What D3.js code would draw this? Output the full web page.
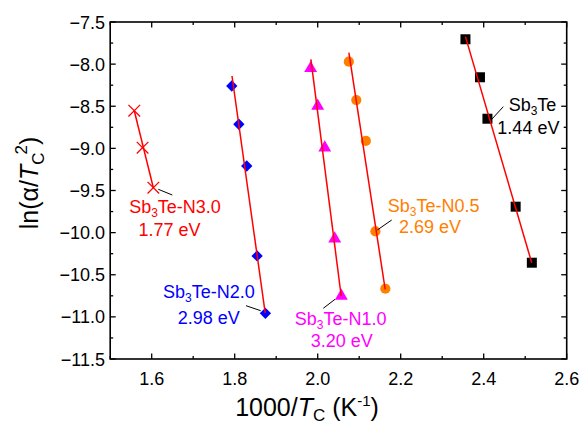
<!DOCTYPE html>
<html><head><meta charset="utf-8">
<script src="https://cdn.jsdelivr.net/npm/d3@7"></script>
<style>body{margin:0;background:#fff}svg{display:block;font-family:"Liberation Sans",Arial,sans-serif}</style>
</head><body><svg id="c" width="583" height="425"></svg>
<script>
// ---- data ----
const xTicks = [1.6, 1.8, 2.0, 2.2, 2.4, 2.6];
const yTicks = [-7.5, -8.0, -8.5, -9.0, -9.5, -10.0, -10.5, -11.0, -11.5];

const sb3teX = [2.356, 2.391, 2.409, 2.477, 2.516];
const sb3teY = [-7.705, -8.156, -8.648, -9.692, -10.357];
const sb3teFitX = [2.356, 2.5157];
const sb3teFitY = [-7.674, -10.357];

const n05X = [2.075, 2.093, 2.116, 2.139, 2.163];
const n05Y = [-7.971, -8.426, -8.912, -9.984, -10.666];
const n05FitX = [2.0751, 2.1626];
const n05FitY = [-7.864, -10.673];

const n10X = [1.983, 2.000, 2.017, 2.041, 2.057];
const n10Y = [-8.05, -8.497, -8.992, -10.072, -10.752];
const n10FitX = [1.9836, 2.0566];
const n10FitY = [-7.943, -10.752];

const n20X = [1.793, 1.810, 1.829, 1.854, 1.874];
const n20Y = [-8.260, -8.714, -9.209, -10.277, -10.958];
const n20FitX = [1.7935, 1.8735];
const n20FitY = [-8.141, -10.954];

const n30X = [1.558, 1.578, 1.604];
const n30Y = [-8.553, -8.992, -9.467];
const n30FitX = [1.558, 1.604];
const n30FitY = [-8.553, -9.467];

const seriesNames = ["Sb3Te", "Sb3Te-N0.5", "Sb3Te-N1.0", "Sb3Te-N2.0", "Sb3Te-N3.0"];
const energies = ["1.44 eV", "2.69 eV", "3.20 eV", "2.98 eV", "1.77 eV"];

// ---- layout ----
const W = 583, H = 425;
const m = {l: 110.2, r: 566.7, t: 22, b: 359};
const x = d3.scaleLinear().domain([1.5, 2.6]).range([m.l, m.r]);
const y = d3.scaleLinear().domain([-11.5, -7.5]).range([m.b, m.t]);
const svg = d3.select("#c");

const series = [
  {x: sb3teX, y: sb3teY, fx: sb3teFitX, fy: sb3teFitY, color: "#000000", sym: "square",
   labPos: [[532.5, 110.7], [528.4, 134]], lead: [[491.7, 119.3], [503.3, 106.7]]},
  {x: n05X, y: n05Y, fx: n05FitX, fy: n05FitY, color: "#FF8000", sym: "circle",
   labPos: [[433.7, 211.7], [430, 233.3]], lead: [[377.3, 230], [391.7, 220]]},
  {x: n10X, y: n10Y, fx: n10FitX, fy: n10FitY, color: "#FF00FF", sym: "triangle",
   labPos: [[340.7, 325], [341.7, 346.7]], lead: [[323.3, 308.3], [335, 299.3]]},
  {x: n20X, y: n20Y, fx: n20FitX, fy: n20FitY, color: "#0000FF", sym: "diamond",
   labPos: [[208.8, 298.3], [208.7, 324]], lead: [[246, 305.7], [260.7, 310.7]]},
  {x: n30X, y: n30Y, fx: n30FitX, fy: n30FitY, color: "#FF0000", sym: "cross",
   labPos: [[175, 213.3], [169.5, 236]], lead: [[158.3, 189.3], [172.3, 195]]}
];

// ---- axes frame ----
const axG = svg.append("g");
const minorX = d3.range(15, 27).map(v => v / 10);
const minorY = d3.range(-115, -74, 2.5).map(v => v / 10);

function tickLines(g, vals, len, orient) {
  vals.forEach(v => {
    if (orient === "bottom") g.append("line").attr("x1", x(v)).attr("x2", x(v)).attr("y1", m.b).attr("y2", m.b - len);
    if (orient === "top") g.append("line").attr("x1", x(v)).attr("x2", x(v)).attr("y1", m.t).attr("y2", m.t + len);
    if (orient === "left") g.append("line").attr("y1", y(v)).attr("y2", y(v)).attr("x1", m.l).attr("x2", m.l + len);
    if (orient === "right") g.append("line").attr("y1", y(v)).attr("y2", y(v)).attr("x1", m.r).attr("x2", m.r - len);
  });
}
const tg = axG.append("g").attr("stroke", "#000").attr("stroke-width", 1.3);
const majX = minorX.filter(v => Math.round(v * 10) % 2 === 0);
const minX = minorX.filter(v => Math.round(v * 10) % 2 === 1);
tickLines(tg, majX, 5.5, "bottom"); tickLines(tg, minX, 3, "bottom");
tickLines(tg, majX, 5.5, "top"); tickLines(tg, minX, 3, "top");
const majY = yTicks;
const minY = minorY.filter(v => !yTicks.some(t => Math.abs(t - v) < 1e-6));
tickLines(tg, majY, 5.5, "left"); tickLines(tg, minY, 3, "left");
tickLines(tg, majY, 5.5, "right"); tickLines(tg, minY, 3, "right");

axG.append("rect").attr("x", m.l).attr("y", m.t).attr("width", m.r - m.l).attr("height", m.b - m.t)
  .attr("fill", "none").attr("stroke", "#000").attr("stroke-width", 1.6);

// tick labels
svg.append("g").selectAll("text").data(xTicks).join("text")
  .attr("x", d => x(d)).attr("y", 385).attr("text-anchor", "middle")
  .attr("font-size", 18).text(d => d.toFixed(1));
svg.append("g").selectAll("text").data(yTicks).join("text")
  .attr("x", 105).attr("y", d => y(d) + 6.5).attr("text-anchor", "end")
  .attr("font-size", 18).text(d => d.toFixed(1).replace("-", "\u2212"));

// axis titles
const xt = svg.append("text").attr("x", 307).attr("y", 416).attr("text-anchor", "middle").attr("font-size", 25);
xt.append("tspan").text("1000/");
xt.append("tspan").attr("font-style", "italic").text("T");
xt.append("tspan").attr("font-size", 17).attr("dy", 5).text("C");
xt.append("tspan").attr("dy", -5).text(" (K");
xt.append("tspan").attr("font-size", 15).attr("dy", -10).text("-1");
xt.append("tspan").attr("dy", 10).text(")");

const yt = svg.append("text").attr("transform", "translate(38,183) rotate(-90)").attr("text-anchor", "middle").attr("font-size", 25);
yt.append("tspan").text("ln(\u03b1/");
yt.append("tspan").attr("font-style", "italic").text("T");
yt.append("tspan").attr("font-size", 17).attr("dy", 6).text("C");
yt.append("tspan").attr("font-size", 17).attr("dy", -17).attr("dx", -2).text("2");
yt.append("tspan").attr("dy", 11).text(")");

// ---- markers ----
const symMap = {square: d3.symbolSquare, circle: d3.symbolCircle, triangle: d3.symbolTriangle, diamond: d3.symbolSquare, cross: d3.symbolX};
const sizeMap = {square: 100, circle: 82, triangle: 72, diamond: 64, cross: 90};
const plotG = svg.append("g");
series.forEach(s => {
  const pts = s.x.map((v, i) => [v, s.y[i]]);
  const sym = d3.symbol().type(symMap[s.sym]).size(sizeMap[s.sym]);
  plotG.append("g").selectAll("path").data(pts).join("path")
    .attr("transform", d => `translate(${x(d[0])},${y(d[1])})` + (s.sym === "diamond" ? " rotate(45)" : ""))
    .attr("d", sym)
    .attr("fill", s.sym === "cross" ? "none" : s.color)
    .attr("stroke", s.sym === "cross" ? s.color : "none")
    .attr("stroke-width", 1.3);
});
// fit lines
const line = d3.line().x(d => x(d[0])).y(d => y(d[1]));
series.forEach(s => {
  plotG.append("path").attr("d", line(s.fx.map((v, i) => [v, s.fy[i]])))
    .attr("fill", "none").attr("stroke", "#FF0000").attr("stroke-width", 1.5);
});

// ---- annotations ----
series.forEach((s, i) => {
  svg.append("line").attr("x1", s.lead[0][0]).attr("y1", s.lead[0][1]).attr("x2", s.lead[1][0]).attr("y2", s.lead[1][1])
    .attr("stroke", "#000").attr("stroke-width", 1);
  const name = seriesNames[i];
  const t = svg.append("text").attr("x", s.labPos[0][0]).attr("y", s.labPos[0][1]).attr("text-anchor", "middle")
    .attr("font-size", 18).attr("fill", s.color);
  t.append("tspan").text(name.slice(0, 2));
  t.append("tspan").attr("font-size", 12).attr("dy", 4).text(name.slice(2, 3));
  t.append("tspan").attr("dy", -4).text(name.slice(3));
  svg.append("text").attr("x", s.labPos[1][0]).attr("y", s.labPos[1][1]).attr("text-anchor", "middle")
    .attr("font-size", 18).attr("fill", s.color).text(energies[i]);
});
</script></body></html>
